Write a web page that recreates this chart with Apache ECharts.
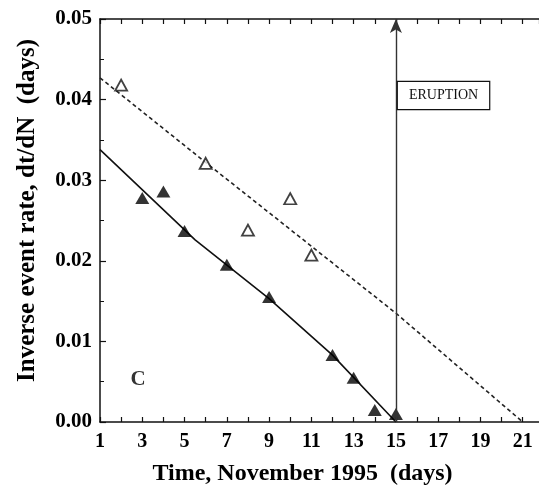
<!DOCTYPE html>
<html>
<head>
<meta charset="utf-8">
<script src="https://cdn.jsdelivr.net/npm/echarts@6/dist/echarts.min.js"></script>
<style>html,body{margin:0;padding:0;background:#fff}#c{width:539px;height:492px}</style>
</head>
<body>
<div id="c"></div>
<script>
// Data
const openDays = [2, 6, 8, 10, 11];
const openRate = [0.0418, 0.0321, 0.0238, 0.0277, 0.0207];
const filledDays = [3, 4, 5, 7, 9, 12, 13, 14, 15];
const filledRate = [0.0278, 0.0286, 0.0237, 0.0195, 0.0155, 0.0083, 0.0055, 0.0015, 0.001];
const solidFitDays = [1, 5.5, 9, 12, 15];
const solidFitRate = [0.0338, 0.0226, 0.0153, 0.0083, 0.0];
const dashedFitDays = [1, 6, 15, 21];
const dashedFitRate = [0.0427, 0.0322, 0.0135, 0.0];
const eruptionDay = 15;
const eruptionLabel = 'ERUPTION';
const yTicks = ['0.00', '0.01', '0.02', '0.03', '0.04', '0.05'];
const panelLabel = 'C';

const zip = (a, b) => a.map((v, i) => [v, b[i]]);
const serif = '"Liberation Serif", "DejaVu Serif", serif';

const chart = echarts.init(document.getElementById('c'), null, {renderer: 'canvas'});
const xBase = {
  type: 'value', min: 1, max: 21.77, interval: 1,
  axisLine: {show: true, lineStyle: {color: '#111', width: 1.5}},
  axisTick: {show: true, inside: true, length: 5, lineStyle: {color: '#111', width: 1.2}},
  splitLine: {show: false}
};
chart.setOption({
  animation: false,
  backgroundColor: '#fff',
  grid: {left: 100, right: 0, top: 19, bottom: 70, containLabel: false, outerBoundsMode: 'none'},
  xAxis: [
    Object.assign({}, xBase, {
      position: 'bottom',
      name: 'Time, November 1995  (days)',
      nameLocation: 'middle', nameGap: 40,
      nameTextStyle: {fontFamily: serif, fontWeight: 'bold', fontSize: 24, color: '#000',
        padding: [0, 34, 0, 0]},
      axisLabel: {
        margin: 10, fontFamily: serif, fontWeight: 'bold', fontSize: 20, color: '#000',
        showMaxLabel: false,
        formatter: v => (Number.isInteger(v) && v % 2 === 1) ? String(v) : ''
      }
    }),
    Object.assign({}, xBase, {position: 'top', axisLabel: {show: false}})
  ],
  yAxis: {
    type: 'value', min: 0, max: 0.05, interval: 0.01,
    name: 'Inverse event rate, dt/dN  (days)',
    nameLocation: 'middle', nameGap: 60, nameRotate: 90,
    nameTextStyle: {fontFamily: serif, fontWeight: 'bold', fontSize: 25, color: '#000',
      padding: [0, 0, 0, 20]},
    axisLine: {show: true, lineStyle: {color: '#111', width: 1.5}},
    axisTick: {show: true, inside: true, length: 6, lineStyle: {color: '#111', width: 1.2}},
    minorTick: {show: true, splitNumber: 2, length: 4, lineStyle: {color: '#111', width: 1}},
    splitLine: {show: false},
    axisLabel: {
      margin: 8, fontFamily: serif, fontWeight: 'bold', fontSize: 21, color: '#000',
      formatter: v => yTicks[Math.round(v * 100)]
    }
  },
  series: [
    {
      type: 'line', data: zip(dashedFitDays, dashedFitRate), symbol: 'none',
      lineStyle: {color: '#222', width: 1.6, type: [4, 3]}, z: 2
    },
    {
      type: 'line', data: zip(solidFitDays, solidFitRate), symbol: 'none',
      lineStyle: {color: '#111', width: 1.6}, z: 2
    },
    {
      type: 'scatter', data: zip(openDays, openRate), symbol: 'triangle', symbolSize: [12, 11],
      itemStyle: {color: '#fff', borderColor: '#111', borderWidth: 1.8}, z: 4
    },
    {
      type: 'scatter', data: zip(filledDays, filledRate), symbol: 'triangle', symbolSize: [14, 12],
      itemStyle: {color: '#000'}, z: 4
    },
    {
      type: 'line', data: [], z: 3,
      markLine: {
        silent: true, symbol: ['none', 'arrow'], symbolSize: [9, 14],
        label: {show: false},
        lineStyle: {color: '#333', width: 1.4, type: 'solid'},
        data: [[{coord: [eruptionDay, 0]}, {coord: [eruptionDay, 0.05]}]]
      },
      markPoint: {
        silent: true, symbol: 'rect', symbolSize: 0,
        data: [{coord: [eruptionDay, 0.0405]}],
        label: {
          show: true, position: 'right', distance: 2, formatter: eruptionLabel,
          fontFamily: serif, fontSize: 14, color: '#111',
          backgroundColor: '#fff', borderColor: '#111', borderWidth: 1.2,
          padding: [7, 11, 6, 11]
        }
      }
    },
    {
      type: 'scatter', data: [[2.8, 0.0053]], symbolSize: 0, silent: true,
      label: {show: true, position: 'inside', formatter: panelLabel,
        fontFamily: serif, fontWeight: 'bold', fontSize: 21, color: '#000'}
    }
  ]
});
</script>
</body>
</html>
